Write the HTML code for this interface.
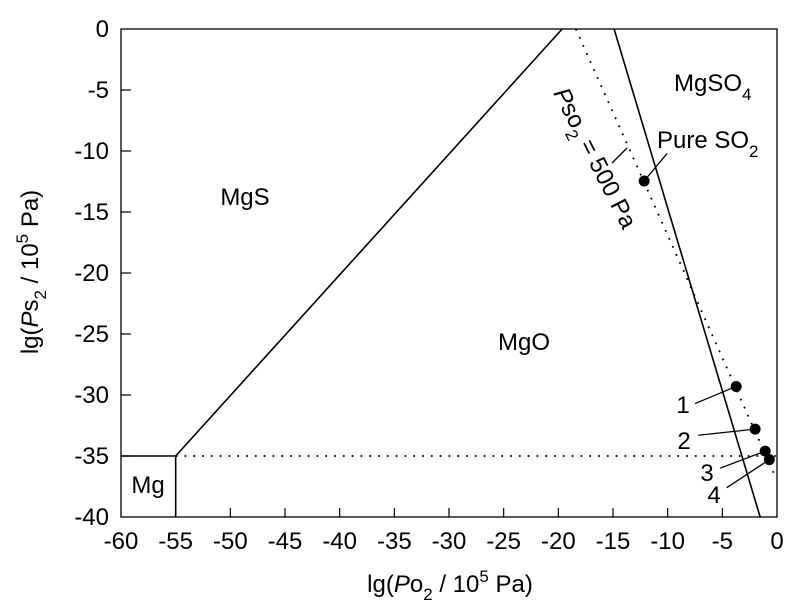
<!DOCTYPE html>
<html><head><meta charset="utf-8"><style>
html,body{margin:0;padding:0;background:#fff}
svg{display:block;font-family:"Liberation Sans",Arial,sans-serif}
</style></head><body>
<svg width="803" height="615" viewBox="0 0 803 615" xmlns="http://www.w3.org/2000/svg">
<g id="marks"></g>
<rect x="121" y="29" width="656" height="488" fill="none" stroke="#000" stroke-width="1.3"/>
<g id="ticks"></g>
<text x="245" y="205" font-size="24" text-anchor="middle">MgS</text>
<text x="524" y="350" font-size="24" text-anchor="middle">MgO</text>
<text x="148" y="493" font-size="24" text-anchor="middle">Mg</text>
<text x="674" y="91" font-size="24">MgSO<tspan font-size="17" dy="9">4</tspan></text>
<text x="657" y="148" font-size="24">Pure SO<tspan font-size="17" dy="9">2</tspan></text>
<text transform="translate(553,93) rotate(63)" font-size="24"><tspan font-style="italic">P</tspan>so<tspan font-size="17" dy="8">2</tspan><tspan dy="-8"> = 500 Pa</tspan></text>
<line x1="627" y1="148" x2="612" y2="163" stroke="#000" stroke-width="1.3"/>
<text x="683" y="413" font-size="24" text-anchor="middle">1</text>
<text x="684" y="449" font-size="24" text-anchor="middle">2</text>
<text x="707" y="481" font-size="24" text-anchor="middle">3</text>
<text x="714" y="503" font-size="24" text-anchor="middle">4</text>
<text x="450" y="592" font-size="24" text-anchor="middle">lg(<tspan font-style="italic">P</tspan>o<tspan font-size="17" dy="8">2</tspan><tspan dy="-8"> / 10</tspan><tspan font-size="17" dy="-10">5</tspan><tspan dy="10"> Pa)</tspan></text>
<text transform="translate(38,272) rotate(-90)" font-size="24" text-anchor="middle">lg(<tspan font-style="italic">P</tspan>s<tspan font-size="17" dy="8">2</tspan><tspan dy="-8"> / 10</tspan><tspan font-size="17" dy="-10">5</tspan><tspan dy="10"> Pa)</tspan></text>
</svg>
<script>
const xTicks=[-60,-55,-50,-45,-40,-35,-30,-25,-20,-15,-10,-5,0];
const yTicks=[0,-5,-10,-15,-20,-25,-30,-35,-40];
const solidLines=[[[-60,-35],[-55,-35]],[[-55,-40],[-55,-35]],[[-55,-35],[-19.65,0]],[[-14.9,0],[-1.54,-40]]];
const dottedLines=[[[-55,-35],[0,-35]],[[-18.4,0],[-0.2,-36.6]]];
const pointX=[-12.15,-3.73,-2.0,-1.08,-0.7];
const pointY=[-12.46,-29.3,-32.8,-34.6,-35.3];
const pointNames=["pure-so2","1","2","3","4"];
const leaderX=[-10.05,-7.5,-7.2,-5.2,-4.6];
const leaderY=[-10.2,-30.7,-33.3,-36.0,-37.6];
const sx=v=>121+(v+60)*656/60;
const sy=v=>29-v*488/40;
const NS="http://www.w3.org/2000/svg";
const marks=document.getElementById('marks'),ticks=document.getElementById('ticks');
function mk(tag,attrs,parent){const e=document.createElementNS(NS,tag);for(const k in attrs)e.setAttribute(k,attrs[k]);parent.appendChild(e);return e;}
solidLines.forEach((l,i)=>{const e=mk('line',{x1:sx(l[0][0]),y1:sy(l[0][1]),x2:sx(l[1][0]),y2:sy(l[1][1]),stroke:'#000','stroke-width':1.6},marks);

});
dottedLines.forEach((l,i)=>{const e=mk('line',{x1:sx(l[0][0]),y1:sy(l[0][1]),x2:sx(l[1][0]),y2:sy(l[1][1]),stroke:'#000','stroke-width':1.8,'stroke-dasharray':'1.8 7'},marks);

});
pointX.forEach((x,i)=>{const l=mk('line',{x1:sx(x),y1:sy(pointY[i]),x2:sx(leaderX[i]),y2:sy(leaderY[i]),stroke:'#000','stroke-width':1.3},marks);


const c=mk('circle',{cx:sx(x),cy:sy(pointY[i]),r:5.5,fill:'#000'},marks);

});
xTicks.forEach(v=>{const x=sx(v);if(v>-60&&v<0){const t=mk('line',{x1:x,y1:517,x2:x,y2:508,stroke:'#000','stroke-width':1.2},ticks);

}
const tx=mk('text',{x:x,y:549,'font-size':24,'text-anchor':'middle'},ticks);tx.textContent=v;

});
yTicks.forEach(v=>{const y=sy(v);if(v<0&&v>-40){const t=mk('line',{x1:121,y1:y,x2:131,y2:y,stroke:'#000','stroke-width':1.2},ticks);

}
const tx=mk('text',{x:109,y:y+8,'font-size':24,'text-anchor':'end'},ticks);tx.textContent=v;

});
</script>
</body></html>
